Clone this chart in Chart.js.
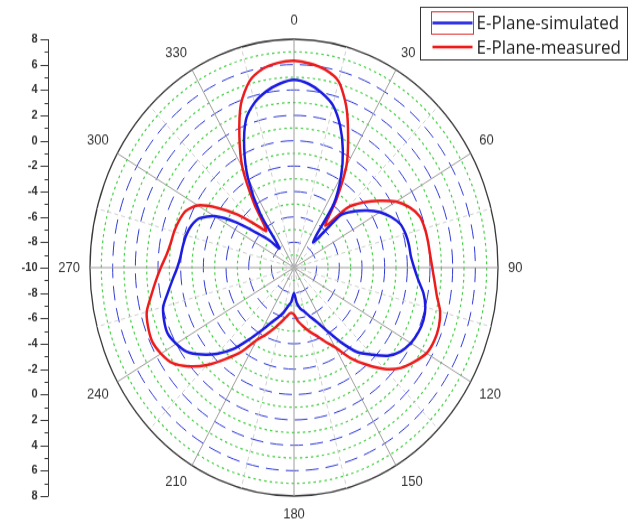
<!DOCTYPE html>
<html>
<head>
<meta charset="utf-8">
<script src="https://cdn.jsdelivr.net/npm/chart.js@4.4.1/dist/chart.umd.min.js"></script>
<style>
  html, body { margin: 0; padding: 0; background: #fff; }
</style>
</head>
<body>
<!-- the source picture is stretched vertically, so the canvas is too -->
<canvas id="polar" width="630" height="468" style="display:block;width:630px;height:524px"></canvas>
<script>
// angle of each sample, degrees clockwise from the top
const angles = [
    0, 5, 10, 15, 20, 25, 30, 35, 40, 45, 50, 55,
    60, 65, 70, 75, 80, 85, 90, 95, 100, 105, 110, 115,
    120, 125, 130, 135, 140, 145, 150, 155, 160, 165, 170, 175,
    180, 185, 190, 195, 200, 205, 210, 215, 220, 225, 230, 235,
    240, 245, 250, 255, 260, 265, 270, 275, 280, 285, 290, 295,
    300, 305, 310, 315, 320, 325, 330, 335, 340, 345, 350, 355
];

const simulated = [
    4.8, 4.55, 4.0, 3.25, 1.9, 0.2, -1.7, -3.9, -7.4, -4.1, -3.1, -2.15,
    -1.25, -0.55, 0.0, 0.2, 0.3, 0.35, 0.6, 1.0, 1.6, 2.0, 2.15, 2.1,
    1.9, 1.5, 0.8, -0.3, -1.3, -2.85, -4.3, -5.3, -5.9, -6.4, -6.7, -7.2,
    -8.0, -7.3, -6.9, -6.3, -5.8, -5.2, -4.3, -3.1, -1.6, -0.4, 0.65, 1.55,
    2.0, 2.3, 2.2, 1.95, 1.3, 0.75, 0.3, 0.05, -0.05, -0.15, -0.35, -0.8,
    -1.9, -3.8, -5.8, -7.0, -8.0, -4.8, -1.9, 0.4, 2.4, 3.45, 4.1, 4.55
];

const measured = [
    6.3, 6.15, 5.85, 5.2, 3.5, 1.3, -0.75, -3.5, -5.7, -3.3, -2.0, -0.8,
    0.4, 1.25, 1.8, 1.95, 2.0, 2.05, 2.2, 2.45, 2.8, 3.35, 3.6, 3.65,
    3.5, 2.95, 2.3, 1.3, 0.0, -1.3, -2.75, -3.6, -4.3, -4.8, -5.3, -5.75,
    -6.3, -6.4, -6.05, -5.55, -4.9, -4.2, -3.4, -1.9, -0.6, 0.85, 2.1, 3.1,
    3.55, 3.8, 3.7, 3.45, 2.8, 2.25, 1.75, 1.3, 1.05, 0.95, 0.8, 0.55,
    -0.2, -1.8, -3.5, -5.2, -6.2, -3.9, -0.9, 1.4, 3.7, 5.2, 5.9, 6.2
];

const angleLabels = [0, 30, 60, 90, 120, 150, 180, 210, 240, 270, 300, 330];
const axisLabels = [8, 6, 4, 2, 0, -2, -4, -6, -8, -10];

const labelFont = '"Liberation Sans", Arial, sans-serif';

// vertical value axis on the left, mirrored above and below the centre
const leftAxis = {
    id: 'leftAxis',
    afterDraw(chart)
    {
        const r = chart.scales.r;
        const c = chart.ctx;
        const axisX = Math.round(r.xCenter - r.drawingArea - 42) + 0.5;

        c.save();
        c.strokeStyle = '#3a3a3a';
        c.lineWidth = 1;
        c.beginPath();
        c.moveTo(axisX, r.yCenter - r.drawingArea);
        c.lineTo(axisX, r.yCenter + r.drawingArea);
        r.ticks.forEach(function (t) {
            const d = r.getDistanceFromCenterForValue(t.value);
            const len = t.value % 2 === 0 ? 8 : 4;
            [r.yCenter - d, r.yCenter + d].forEach(function (y) {
                c.moveTo(axisX - len, Math.round(y) + 0.5);
                c.lineTo(axisX, Math.round(y) + 0.5);
            });
        });
        c.stroke();

        c.fillStyle = '#333';
        c.font = 'bold 11px ' + labelFont;
        c.textAlign = 'right';
        c.textBaseline = 'middle';
        axisLabels.forEach(function (v) {
            const d = r.getDistanceFromCenterForValue(v);
            c.fillText(String(v), axisX - 11, r.yCenter - d);
            if (d > 0) {
                c.fillText(String(v), axisX - 11, r.yCenter + d);
            }
        });
        c.restore();
    }
};

// framed legend in the top right corner
const legendBox = {
    id: 'legendBox',
    afterDraw(chart)
    {
        const c = chart.ctx;
        const bx = 420.5, by = 6.5, bw = 207, bh = 47;

        c.save();
        c.strokeStyle = '#333';
        c.lineWidth = 1;
        c.strokeRect(bx, by, bw, bh);

        c.font = '17px "Open Sans", Arial, sans-serif';
        c.textAlign = 'left';
        c.textBaseline = 'middle';
        chart.data.datasets.forEach(function (ds, i) {
            const y = by + 14 + i * 21.4;
            c.strokeStyle = ds.borderColor;
            c.lineWidth = 2.5;
            c.beginPath();
            c.moveTo(bx + 12, y);
            c.lineTo(bx + 52, y);
            c.stroke();
            c.fillStyle = '#222';
            c.fillText(ds.label, bx + 56, y + 1);
        });

        c.strokeStyle = '#e03030';
        c.lineWidth = 1;
        c.strokeRect(bx + 11, by + 4, 42, 20);
        c.restore();
    }
};

const ctx = document.getElementById('polar');
const myChart = new Chart(ctx, {
    type: 'radar',
    data: {
        labels: angles,
        datasets: [{
            label: 'E-Plane-simulated',
            data: simulated,
            borderColor: '#1c1ce0',
            borderWidth: 2.5,
            fill: false,
            pointRadius: 0
        }, {
            label: 'E-Plane-measured',
            data: measured,
            borderColor: '#ec1c1c',
            borderWidth: 2.5,
            fill: false,
            pointRadius: 0
        }]
    },
    options: {
        responsive: false,
        animation: false,
        devicePixelRatio: 1,
        layout: {
            padding: { left: 34, right: 76, top: 12, bottom: 1 }
        },
        elements: {
            line: { tension: 0.25 }
        },
        plugins: {
            legend: { display: false },
            tooltip: { enabled: false }
        },
        scales: {
            r: {
                min: -10,
                max: 8,
                beginAtZero: false,
                ticks: { display: false, stepSize: 1 },
                grid: {
                    circular: true,
                    color: function (c) {
                        if (c.tick.value === 8) return '#3a3a3a';
                        return c.tick.value % 2 === 0 ? '#2f3ad6' : '#45cf45';
                    },
                    lineWidth: function (c) {
                        if (c.tick.value === 8) return 1.3;
                        return c.tick.value % 2 === 0 ? 1 : 1.2;
                    }
                },
                border: {
                    dash: function (c) {
                        if (c.tick.value === 8) return [];
                        return c.tick.value % 2 === 0 ? [13, 7] : [2.5, 3];
                    }
                },
                angleLines: {
                    color: function (c) {
                        return angles[c.index] % 30 === 0 ? '#9c9c9c' : '#d0d0d0';
                    },
                    lineWidth: function (c) {
                        return angles[c.index] % 15 === 0 ? 1 : 0;
                    },
                    borderDash: function (c) {
                        return angles[c.index] % 30 === 0 ? [] : [4, 3];
                    }
                },
                pointLabels: {
                    padding: 10,
                    color: '#333',
                    font: { family: labelFont, size: 13, lineHeight: 1 },
                    callback: function (label) {
                        return angleLabels.includes(label) ? String(label) : '';
                    }
                }
            }
        }
    },
    plugins: [leftAxis, legendBox]
});
</script>
</body>
</html>
